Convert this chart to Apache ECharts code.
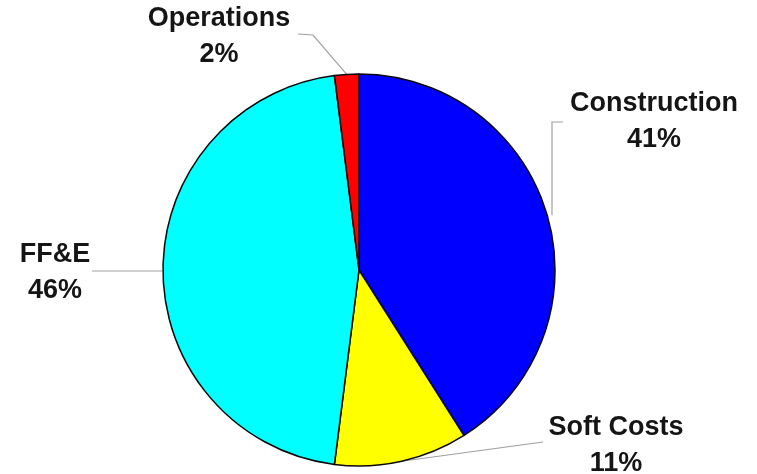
<!DOCTYPE html>
<html>
<head>
<meta charset="utf-8">
<script src="https://cdn.jsdelivr.net/npm/echarts@6/dist/echarts.min.js"></script>
<style>html,body{margin:0;padding:0;background:#fff;}#c{width:757px;height:474px;}</style>
</head>
<body>
<div id="c"></div>
<script>
const categories = ['Construction', 'Soft Costs', 'FF&E', 'Operations'];
const values = [41, 11, 46, 2];
const colors = ['#0000FF', '#FFFF00', '#00FFFF', '#FF0000'];

// label placement (text centre) and extra line points per slice
const labelPos = [
  { x: 654, y: 122, line: [[552, 122], [563, 122]], vert: true },
  { x: 616, y: 446, line: [[543, 442]] },
  { x: 55, y: 273, line: [[92, 271]], horiz: true },
  { x: 219, y: 37, line: [[313, 35], [298, 34]] }
];

const chart = echarts.init(document.getElementById('c'), null, { renderer: 'canvas' });
chart.setOption({
  animation: false,
  backgroundColor: '#ffffff',
  series: [{
    type: 'pie',
    center: [359, 270],
    radius: 196,
    startAngle: 90,
    clockwise: true,
    avoidLabelOverlap: false,
    data: categories.map((n, i) => ({ name: n, value: values[i], itemStyle: { color: colors[i] } })),
    itemStyle: { borderColor: '#0a0a0a', borderWidth: 1.5 },
    label: {
      show: true,
      position: 'outside',
      formatter: p => p.name + '\n' + p.value + '%',
      fontFamily: 'Liberation Sans, Arial, sans-serif',
      fontWeight: 'bold',
      fontSize: 27,
      lineHeight: 36,
      color: '#151515',
      align: 'center'
    },
    labelLine: { show: true, lineStyle: { color: '#a0a0a0', width: 1.2 } },
    labelLayout: function (params) {
      const lp = labelPos[params.dataIndex];
      const pts = params.labelLinePoints || [];
      const start = pts.length ? pts[0] : null;
      let linePts = null;
      if (start) {
        let s = [start[0], start[1]];
        if (lp.vert) s = [lp.line[0][0], s[1]];
        if (lp.horiz) s = [s[0], lp.line[0][1]];
        linePts = [s].concat(lp.line);
      }
      const r = { x: lp.x, y: lp.y, align: 'center', verticalAlign: 'middle', hideOverlap: false };
      if (linePts) r.labelLinePoints = linePts;
      return r;
    },
    emphasis: { disabled: true }
  }]
});
</script>
</body>
</html>
